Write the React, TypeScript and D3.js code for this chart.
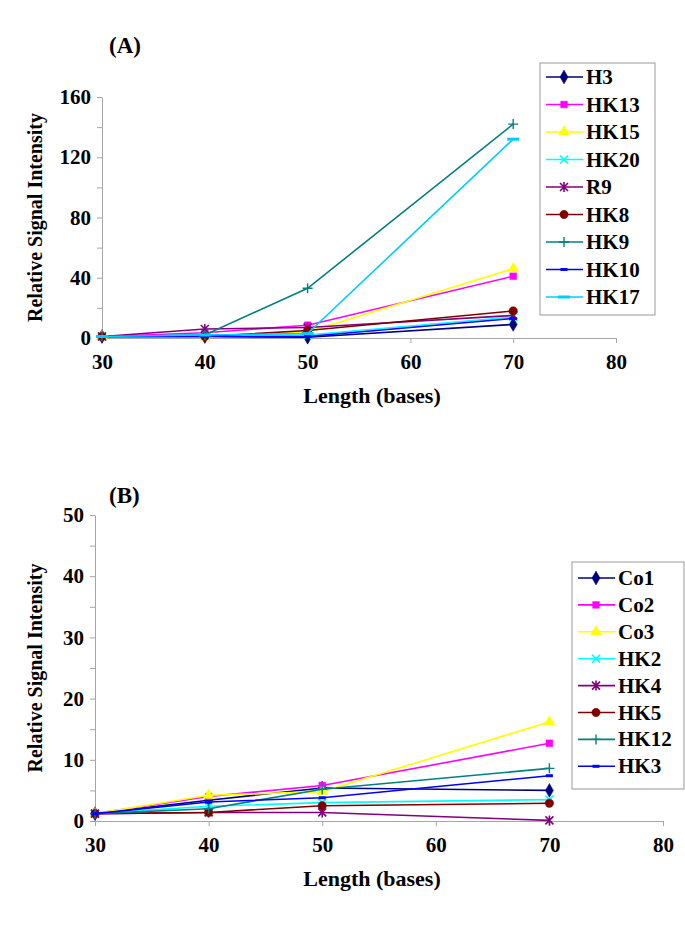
import React, { useEffect, useRef } from 'react';
import * as d3 from 'd3';

// x positions (bases)
const lengths = [30, 40, 50, 70];

// panel A
const seriesA = ['H3', 'HK13', 'HK15', 'HK20', 'R9', 'HK8', 'HK9', 'HK10', 'HK17'];
const valuesA = [
  [1, 1, 0.5, 9],
  [1, 3.5, 8.5, 41],
  [1, 0.5, 4, 46],
  [1, 2, 2, 14],
  [1, 6, 7, 15],
  [1, 1, 5, 18],
  [1, 2, 33, 142],
  [1, 1, 1, 13],
  [1, 2, 3, 132],
];
const yTicksA = [0, 40, 80, 120, 160];

// panel B
const seriesB = ['Co1', 'Co2', 'Co3', 'HK2', 'HK4', 'HK5', 'HK12', 'HK3'];
const valuesB = [
  [1.2, 3.4, 5.4, 5.0],
  [1.2, 4.0, 5.8, 12.7],
  [1.2, 4.2, 4.8, 16.2],
  [1.2, 2.4, 3.0, 3.5],
  [1.2, 1.4, 1.4, 0.1],
  [1.2, 1.4, 2.5, 2.9],
  [1.2, 2.0, 5.2, 8.6],
  [1.2, 3.1, 3.8, 7.4],
];
const yTicksB = [0, 10, 20, 30, 40, 50];

const xTicks = [30, 40, 50, 60, 70, 80];

// excel 2003 default line colours / markers
const colorsA = ['#000080', '#FF00FF', '#FFFF00', '#00FFFF', '#800080', '#800000', '#008080', '#0000FF', '#00CCFF'];
const markersA = ['diamond', 'square', 'triangle', 'x', 'star', 'circle', 'plus', 'dash', 'longdash'];
const colorsB = ['#000080', '#FF00FF', '#FFFF00', '#00FFFF', '#800080', '#800000', '#008080', '#0000FF'];
const markersB = ['diamond', 'square', 'triangle', 'x', 'star', 'circle', 'plus', 'dash'];

const FONT = 'Liberation Serif';
const AXIS = '#a6a6a6';

const Marker: React.FC<{ type: string; color: string; x: number; y: number }> = ({ type, color, x, y }) => {
  const t = `translate(${x},${y})`;
  const sym = (s: d3.SymbolType, size: number) => (
    <path transform={t} d={d3.symbol(s, size)() || ''} fill={color} stroke={color} strokeWidth={0.5} />
  );
  switch (type) {
    case 'diamond': return sym(d3.symbolDiamond, 55);
    case 'square': return sym(d3.symbolSquare, 45);
    case 'triangle': return sym(d3.symbolTriangle, 50);
    case 'circle': return sym(d3.symbolCircle, 55);
    case 'x':
      return <path transform={t} d="M-4,-4L4,4M-4,4L4,-4" stroke={color} strokeWidth={1.6} fill="none" />;
    case 'star':
      return <path transform={t} d="M-4,-4L4,4M-4,4L4,-4M0,-5L0,5" stroke={color} strokeWidth={1.6} fill="none" />;
    case 'plus':
      return <path transform={t} d="M-5,0L5,0M0,-5L0,5" stroke={color} strokeWidth={1.4} fill="none" />;
    case 'dash':
      return <rect x={x - 3.5} y={y - 1.5} width={7} height={3} fill={color} />;
    case 'longdash':
      return <rect x={x - 6} y={y - 1.5} width={12} height={3} fill={color} />;
    default:
      return null;
  }
};

interface PanelProps {
  label: string;
  labelY: number;
  series: string[];
  values: number[][];
  colors: string[];
  markers: string[];
  yMax: number;
  yTicks: number[];
  yMinor: number;
  left: number;
  right: number;
  top: number;
  bottom: number;
  legend: { x: number; y: number; w: number; h: number; firstY: number; step: number };
}

const Panel: React.FC<PanelProps> = ({
  label, labelY, series, values, colors, markers, yMax, yTicks, yMinor,
  left, right, top, bottom, legend
}) => {
  const xAxisRef = useRef<SVGGElement>(null);
  const yAxisRef = useRef<SVGGElement>(null);

  const x = d3.scaleLinear().domain([30, 80]).range([left, right]);
  const y = d3.scaleLinear().domain([0, yMax]).range([bottom, top]);

  useEffect(() => {
    if (!xAxisRef.current || !yAxisRef.current) return;
    const gx = d3.select(xAxisRef.current);
    gx.selectAll('*').remove();
    gx.call(d3.axisBottom(x).tickValues(xTicks).tickSize(5).tickSizeOuter(0).tickPadding(11));
    gx.attr('font-family', null).attr('font-size', null);
    gx.selectAll('path,line').attr('stroke', AXIS);
    gx.selectAll('text')
      .attr('fill', '#000').attr('font-family', FONT).attr('font-size', 21).attr('font-weight', 'bold');

    const gy = d3.select(yAxisRef.current);
    gy.selectAll('*').remove();
    const minor = d3.range(0, yMax + 0.001, yMinor);
    gy.call(d3.axisLeft(y).tickValues(minor).tickSize(5).tickSizeOuter(0).tickPadding(6)
      .tickFormat(d => (yTicks.includes(+d) ? String(d) : '')));
    gy.attr('font-family', null).attr('font-size', null);
    gy.selectAll('path,line').attr('stroke', AXIS);
    gy.selectAll('text')
      .attr('fill', '#000').attr('font-family', FONT).attr('font-size', 21).attr('font-weight', 'bold');
  }, [left, right, top, bottom, yMax]);

  const line = d3.line<number>()
    .x((_, i) => x(lengths[i]))
    .y(d => y(d));

  return (
    <g fontFamily={FONT} fontWeight="bold">
      <text x={109} y={labelY} fontSize={23}>{label}</text>
      <g ref={xAxisRef} transform={`translate(0,${bottom})`} />
      <g ref={yAxisRef} transform={`translate(${left},0)`} />
      {values.map((vals, si) => (
        <g key={series[si]}>
          <path d={line(vals) || ''} fill="none" stroke={colors[si]} strokeWidth={1.6} />
          {vals.map((v, i) => (
            <Marker key={i} type={markers[si]} color={colors[si]} x={x(lengths[i])} y={y(v)} />
          ))}
        </g>
      ))}
      <text
        transform={`translate(42,${(top + bottom) / 2}) rotate(-90)`}
        textAnchor="middle" fontSize={20}
      >Relative Signal Intensity</text>
      <text x={372} y={bottom + 65} textAnchor="middle" fontSize={22}>Length (bases)</text>
      <rect x={legend.x} y={legend.y} width={legend.w} height={legend.h} fill="#fff" stroke="#999" strokeWidth={1} />
      {series.map((s, i) => {
        const ly = legend.firstY + i * legend.step;
        const lx = legend.x + 6;
        return (
          <g key={s}>
            <line x1={lx} x2={lx + 37} y1={ly} y2={ly} stroke={colors[i]} strokeWidth={1.6} />
            <Marker type={markers[i]} color={colors[i]} x={lx + 18} y={ly} />
            <text x={lx + 40} y={ly + 7} fontSize={21}>{s}</text>
          </g>
        );
      })}
    </g>
  );
};

export default function App() {
  return (
    <svg width={685} height={933} style={{ position: 'absolute', left: 0, top: 0, background: '#fff' }}>
      <Panel
        label="(A)" labelY={53}
        series={seriesA} values={valuesA} colors={colorsA} markers={markersA}
        yMax={160} yTicks={yTicksA} yMinor={20}
        left={102} right={616} top={97} bottom={338}
        legend={{ x: 540, y: 63, w: 115, h: 252, firstY: 77, step: 27.5 }}
      />
      <Panel
        label="(B)" labelY={503}
        series={seriesB} values={valuesB} colors={colorsB} markers={markersB}
        yMax={50} yTicks={yTicksB} yMinor={5}
        left={95} right={663} top={515} bottom={821}
        legend={{ x: 572, y: 562, w: 112, h: 227, firstY: 578, step: 26.9 }}
      />
    </svg>
  );
}
